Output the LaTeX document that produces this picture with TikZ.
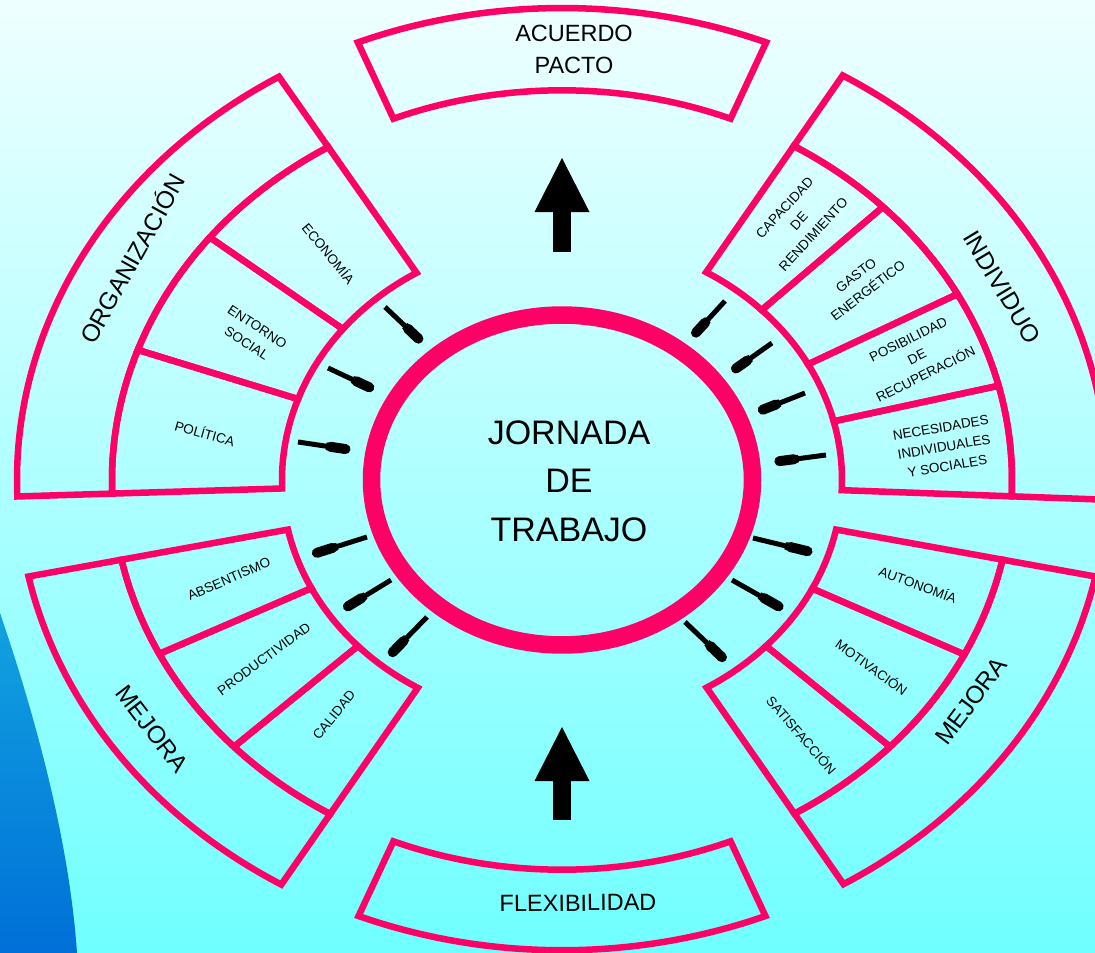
\documentclass[tikz,border=0pt]{standalone}
\usepackage{fontspec}
\setmainfont{Liberation Sans}
\usetikzlibrary{arrows.meta,calc}

\definecolor{rim}{HTML}{FF0066}
\definecolor{skytop}{HTML}{EFFFFF}
\definecolor{skybottom}{HTML}{70FFFF}
\definecolor{bluetop}{HTML}{12A2E0}
\definecolor{bluebottom}{HTML}{0070D8}

\tikzset{
  rimline/.style={draw=rim, line width=6.5pt},
  bigword/.style={font=\fontsize{24.5}{29}\selectfont, inner sep=0pt},
  boxword/.style={font=\fontsize{23.5}{32}\selectfont, align=center, inner sep=0pt},
  coreword/.style={font=\fontsize{34}{48.5}\selectfont, align=center, inner sep=0pt},
  smallword/.style={font=\fontsize{13.5}{19.5}\selectfont, align=center, inner sep=0pt},
  bigarrow/.style={line width=18pt, -{Triangle[width=55pt,length=54pt,line width=0pt]}}
}

% piece of a ring: start angle, end angle, inner radius, outer radius
\newcommand{\ringpart}[4]{%
  \draw[rimline] (#1:#3) arc[start angle=#1, end angle=#2, radius=#3]
    -- (#2:#4) arc[start angle=#2, end angle=#1, radius=#4] -- cycle;}

% small pen-like pointer from tail to tip
\newcommand{\pencil}[2]{%
  \coordinate (pa) at (#1);
  \coordinate (pb) at (#2);
  \draw[line width=5pt] (pa) -- ($(pa)!0.6!(pb)$);
  \draw[line width=7.5pt] ($(pa)!0.52!(pb)$) -- ($(pa)!0.64!(pb)$);
  \draw[line width=10pt, line cap=round] ($(pa)!0.6!(pb)$) -- ($(pa)!0.88!(pb)$);}

\begin{document}
\begin{tikzpicture}[x=1pt, y=1pt]
  \useasboundingbox (0,0) rectangle (1095,-953);
  \shade[top color=skytop, bottom color=skybottom] (0,0) rectangle (1095,-953);
  \shade[top color=bluetop, bottom color=bluebottom]
    (0,-613) .. controls (40,-730) and (70,-850) .. (77,-953) -- (0,-953) -- cycle;

  \begin{scope}[shift={(562,-480)}, yscale=0.866]
    % organizacion
    \ringpart{121.3}{182}{450}{545}
    \ringpart{121.3}{141.5}{280}{450}
    \ringpart{141.5}{160.5}{280}{450}
    \ringpart{160.5}{182}{280}{450}
    % individuo
    \ringpart{-2.4}{59}{450}{545}
    \ringpart{44.5}{59}{280}{450}
    \ringpart{28.5}{44.5}{280}{450}
    \ringpart{14}{28.5}{280}{450}
    \ringpart{-2.4}{14}{280}{450}
    % mejora, left
    \ringpart{191.8}{239}{450}{545}
    \ringpart{191.8}{206.5}{280}{450}
    \ringpart{206.5}{223.2}{280}{450}
    \ringpart{223.2}{239}{280}{450}
    % mejora, right
    \ringpart{-58.9}{-11.8}{450}{545}
    \ringpart{-26.6}{-11.8}{280}{450}
    \ringpart{-43.2}{-26.6}{280}{450}
    \ringpart{-58.9}{-43.2}{280}{450}
    % acuerdo and flexibilidad
    \ringpart{68}{112}{450}{545}
    \ringpart{248}{292}{450}{543}
    % centre ring
    \draw[rim, line width=17.5pt] (0,0) circle[radius=190.5];
  \end{scope}

  \coordinate (upfoot) at (562,-252);
  \coordinate (uptip) at (562,-158);
  \coordinate (downfoot) at (562,-820);
  \coordinate (downtip) at (562,-727);
  \draw[bigarrow] (upfoot) -- (uptip);
  \draw[bigarrow] (downfoot) -- (downtip);

  \pencil{385,-307}{423,-343}
  \pencil{328,-368}{375,-390}
  \pencil{298,-442}{352,-450}
  \pencil{725,-301}{692,-337}
  \pencil{772,-343}{731,-372}
  \pencil{805,-393}{757,-412}
  \pencil{826,-455}{773,-462}
  \pencil{367,-537}{310,-555}
  \pencil{391,-580}{342,-610}
  \pencil{427,-617}{388,-657}
  \pencil{753,-538}{815,-553}
  \pencil{732,-580}{785,-610}
  \pencil{685,-622}{727,-662}

  \node[coreword] (jornada) at (569,-481) {JORNADA\\DE\\TRABAJO};
  \node[boxword] (pacto) at (574,-49) {ACUERDO\\PACTO};
  \node[boxword, rotate=0.6] (flex) at (578,-903) {FLEXIBILIDAD};

  \node[bigword, rotate=60.8] (org) at (131,-258) {ORGANIZACIÓN};
  \node[bigword, rotate=-59] (indiv) at (1002,-287) {INDIVIDUO};
  \node[bigword, rotate=-52.6] (mejleft) at (152,-729) {MEJORA};
  \node[bigword, rotate=53] (mejright) at (971,-701) {MEJORA};

  \node[smallword, rotate=-50.4] (econ) at (329,-253) {ECONOMÍA};
  \node[smallword, rotate=-33.3] (entorno) at (252,-335) {ENTORNO\\SOCIAL};
  \node[smallword, rotate=-15.5] (poli) at (205,-433) {POLÍTICA};

  \node[smallword, rotate=47.5] (capac) at (799,-221) {CAPACIDAD\\DE\\RENDIMIENTO};
  \node[smallword, rotate=37.5] (gasto) at (862,-283) {GASTO\\ENERGÉTICO};
  \node[smallword, rotate=26.5] (recup) at (917,-357) {POSIBILIDAD\\DE\\RECUPERACIÓN};
  \node[smallword, rotate=9.7] (neces) at (944,-447) {NECESIDADES\\INDIVIDUALES\\Y SOCIALES};

  \node[smallword, rotate=23.2] (absent) at (229,-579) {ABSENTISMO};
  \node[smallword, rotate=36.7] (produc) at (264,-659) {PRODUCTIVIDAD};
  \node[smallword, rotate=50.6] (calid) at (334,-715) {CALIDAD};

  \node[smallword, rotate=-20.3] (auton) at (918,-584) {AUTONOMÍA};
  \node[smallword, rotate=-35.8] (motiv) at (872,-667) {MOTIVACIÓN};
  \node[smallword, rotate=-49] (satis) at (802,-735) {SATISFACCIÓN};
\end{tikzpicture}
\end{document}
